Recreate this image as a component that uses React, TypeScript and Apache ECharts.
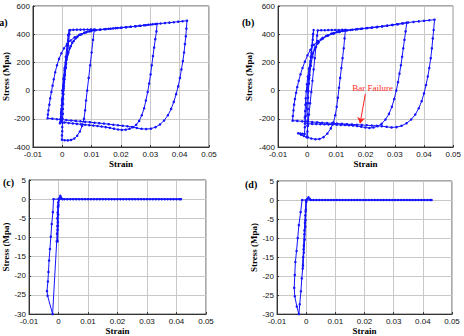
import React, { useEffect, useRef } from "react";
import * as echarts from "echarts";

type Pt = [number, number];

// ---------- (a) steel bar, cyclic response ----------
const aFirstCycle: Pt[] = [
  [0, 0], [0.0004, 80], [0.0008, 160], [0.0012, 240], [0.0016, 320], [0.002, 395], [0.0024, 428],
  [0.0021, 350], [0.0017, 270], [0.0013, 190], [0.0009, 110], [0.0005, 30], [0.0001, -50], [-0.0003, -130], [-0.0006, -200], [-0.0008, -232],
  [-0.0004, -160], [0, -80], [0.0004, 0], [0.0008, 80], [0.0012, 160], [0.0016, 240], [0.002, 320], [0.0024, 400], [0.0027, 430],
  [0.0038, 431], [0.005, 432], [0.0062, 432], [0.0074, 433], [0.0086, 433], [0.0098, 434], [0.0109, 434],
];
const aSecondCycle: Pt[] = [
  [0.0105, 360], [0.01, 270], [0.0095, 180], [0.009, 90], [0.0085, 0], [0.0081, -70], [0.0078, -140], [0.0074, -200], [0.0068, -250],
  [0.006, -290], [0.0051, -320], [0.0041, -340], [0.003, -350], [0.0019, -353], [0.0008, -352], [-0.0001, -348],
  [-0.0001, -318], [0, -288], [0, -258], [0.0001, -228], [0.0001, -198], [0.0002, -165], [0.0002, -130], [0.0003, -95], [0.0003, -60],
  [0.0004, -25], [0.0005, 15], [0.0006, 60], [0.0008, 110], [0.0011, 165], [0.0015, 220], [0.0021, 270], [0.0029, 315], [0.0039, 352],
  [0.0051, 380], [0.0066, 400], [0.0082, 414], [0.0098, 423], [0.0113, 429],
  [0.0128, 432], [0.0143, 435], [0.0158, 438], [0.0173, 441], [0.0188, 444], [0.0203, 447], [0.0218, 450], [0.0233, 453],
  [0.0248, 456], [0.0263, 460], [0.0278, 463], [0.0293, 467], [0.0308, 470], [0.0323, 474],
];
const aThirdCycle: Pt[] = [
  [0.0321, 420], [0.0317, 365], [0.0313, 305], [0.0309, 245], [0.0305, 180], [0.0301, 115], [0.0296, 50], [0.0291, -10],
  [0.0285, -70], [0.0279, -125], [0.0271, -175], [0.0262, -215], [0.0252, -242], [0.0241, -260], [0.0229, -271], [0.0216, -277],
  [0.0203, -279], [0.019, -276], [0.0176, -270], [0.0162, -264], [0.0148, -259], [0.0134, -255], [0.012, -251], [0.0106, -248],
  [0.0092, -245], [0.0078, -242], [0.0064, -239], [0.005, -236], [0.0036, -233], [0.0022, -230], [0.0008, -226], [-0.0005, -222],
  [-0.0004, -185], [-0.0003, -145], [-0.0002, -105], [-0.0001, -65], [0.0001, -20], [0.0003, 35], [0.0005, 90], [0.0008, 145],
  [0.0012, 200], [0.0018, 255], [0.0025, 300], [0.0034, 340], [0.0046, 372], [0.0061, 396], [0.0078, 412], [0.0096, 422], [0.0114, 429],
  [0.0131, 433], [0.0148, 436], [0.0165, 439], [0.0182, 443], [0.0199, 446], [0.0216, 449], [0.0233, 453], [0.025, 456],
  [0.0267, 460], [0.0284, 464], [0.0301, 468], [0.0318, 472], [0.0335, 476], [0.035, 479], [0.0365, 482], [0.038, 485],
  [0.0395, 489], [0.041, 492], [0.0425, 496],
];
const aFourthCycle: Pt[] = [
  [0.0423, 440], [0.0421, 385], [0.0418, 330], [0.0415, 270], [0.0411, 210], [0.0406, 150], [0.0401, 90], [0.0395, 30],
  [0.0388, -25], [0.038, -80], [0.0371, -130], [0.036, -175], [0.0347, -212], [0.0333, -240], [0.0318, -259], [0.0302, -270],
  [0.0286, -273], [0.027, -271], [0.0254, -265], [0.0238, -258], [0.0222, -253], [0.0206, -249], [0.019, -246], [0.0174, -242],
  [0.0158, -238], [0.0142, -234], [0.0126, -231], [0.011, -228], [0.0094, -224], [0.0078, -221], [0.0062, -218], [0.0046, -215],
  [0.003, -212], [0.0014, -209], [-0.0002, -206], [-0.0018, -203], [-0.0034, -199], [-0.005, -196],
  [-0.0049, -170], [-0.0047, -140], [-0.0044, -100], [-0.0041, -55], [-0.0037, -10], [-0.0033, 35], [-0.0029, 80], [-0.0024, 130],
  [-0.0018, 180], [-0.0011, 225], [-0.0003, 265], [0.0006, 300], [0.0016, 330], [0.0028, 355], [0.0042, 378], [0.0058, 396],
  [0.0075, 410], [0.0092, 420], [0.011, 428],
];

// ---------- (b) steel bar with failure ----------
const bFirstCycle: Pt[] = [
  [0, 0], [0.0004, 80], [0.0008, 160], [0.0012, 240], [0.0016, 320], [0.002, 400], [0.0022, 430],
  [0.0019, 360], [0.0015, 270], [0.0011, 180], [0.0007, 90], [0.0003, 0], [-0.0001, -90], [-0.0005, -180], [-0.0008, -260], [-0.0009, -307],
  [-0.0017, -306], [-0.0024, -304], [-0.0031, -303],
  [-0.0021, -313], [-0.0011, -322], [-0.0002, -331],
  [0.0002, -250], [0.0006, -170], [0.001, -90], [0.0014, -10], [0.0018, 70], [0.0022, 150], [0.0026, 230], [0.003, 310], [0.0034, 390], [0.0036, 427],
  [0.0048, 428], [0.006, 428], [0.0072, 429], [0.0084, 429], [0.0096, 430], [0.0108, 430], [0.012, 431], [0.0131, 431],
];
const bSecondCycle: Pt[] = [
  [0.0128, 370], [0.0125, 300], [0.0121, 230], [0.0117, 160], [0.0113, 90], [0.0109, 20], [0.0105, -50], [0.0101, -115],
  [0.0096, -175], [0.009, -225], [0.0081, -268], [0.0069, -305], [0.0056, -330], [0.0042, -343], [0.0028, -345], [0.0014, -340], [0.0002, -332],
  [0.0001, -290], [0.0001, -250], [0.0002, -210], [0.0002, -170], [0.0002, -130], [0.0003, -90], [0.0003, -50], [0.0004, -5],
  [0.0006, 50], [0.0008, 110], [0.0012, 175], [0.0018, 240], [0.0026, 295], [0.0036, 335], [0.0049, 365], [0.0065, 388],
  [0.0083, 405], [0.0102, 416], [0.0121, 423],
  [0.0138, 428], [0.0155, 432], [0.0172, 436], [0.0189, 440], [0.0206, 444], [0.0223, 448], [0.024, 452], [0.0257, 456],
  [0.0274, 461], [0.0291, 466], [0.0308, 471], [0.0325, 477], [0.0341, 482],
];
const bThirdCycle: Pt[] = [
  [0.0337, 420], [0.0333, 360], [0.0329, 300], [0.0325, 240], [0.0321, 180], [0.0316, 120], [0.0311, 60], [0.0305, 0],
  [0.0298, -60], [0.029, -115], [0.028, -165], [0.0268, -205], [0.0255, -235], [0.0241, -253], [0.0227, -262], [0.0213, -265],
  [0.0199, -262], [0.0185, -256], [0.0171, -251], [0.0157, -248], [0.0143, -246], [0.0129, -244], [0.0115, -243], [0.0101, -242],
  [0.0087, -241], [0.0073, -240], [0.0059, -239], [0.0045, -238], [0.0031, -237], [0.0017, -236], [0.0003, -235], [-0.0008, -234],
  [-0.0008, -190], [-0.0007, -145], [-0.0006, -100], [-0.0005, -55], [-0.0003, -5], [-0.0001, 45], [0.0002, 100], [0.0006, 155],
  [0.0011, 210], [0.0018, 262], [0.0027, 305], [0.0039, 342], [0.0054, 370], [0.0071, 390], [0.009, 404], [0.011, 415], [0.013, 425],
  [0.0148, 430], [0.0166, 434], [0.0184, 438], [0.0202, 442], [0.022, 446], [0.0238, 450], [0.0256, 455], [0.0274, 460],
  [0.0292, 465], [0.031, 470], [0.0328, 476], [0.0346, 483], [0.0364, 487], [0.0382, 491], [0.04, 495], [0.0418, 499], [0.0436, 503],
];
const bFourthCycle: Pt[] = [
  [0.0433, 430], [0.043, 370], [0.0427, 300], [0.0423, 230], [0.0418, 160], [0.0413, 100], [0.0407, 40], [0.04, -20],
  [0.0392, -75], [0.0382, -125], [0.037, -170], [0.0356, -205], [0.034, -232], [0.0323, -250], [0.0306, -259], [0.0289, -261],
  [0.0272, -257], [0.0255, -252], [0.0238, -250], [0.0221, -248], [0.0204, -246], [0.0187, -244], [0.017, -242], [0.0153, -240],
  [0.0136, -238], [0.0119, -236], [0.0102, -234], [0.0085, -232], [0.0068, -230], [0.0051, -228], [0.0034, -225], [0.0017, -223],
  [0, -220], [-0.0017, -218], [-0.0034, -215], [-0.005, -213],
  [-0.0049, -180], [-0.0047, -140], [-0.0045, -100], [-0.0042, -60], [-0.0038, -15], [-0.0034, 25], [-0.0029, 70], [-0.0023, 115],
  [-0.0016, 160], [-0.0008, 205], [0.0001, 250], [0.0011, 290], [0.0023, 325], [0.0037, 352], [0.0053, 374], [0.0071, 392],
  [0.0091, 408], [0.0112, 419], [0.0133, 427],
];
const barFailureLabelAt: Pt = [0.0224, 19];
const barFailureArrowFrom: Pt = [0.0199, -25];
const barFailureArrowTo: Pt = [0.0181, -233];

// ---------- (c) concrete, cyclic response ----------
const cEarly: Pt[] = [
  [0, 0], [-0.0001, -2], [-0.0002, -4], [-0.0002, -6], [-0.0003, -8], [-0.0003, -11], [-0.0002, -7], [-0.0001, -4], [0, -1.5],
  [0.0003, 0.3], [0.0006, 0.9], [0.0009, 0.4], [0.0013, 0],
];
const cTension: Pt[] = [
  [0.002, 0], [0.003, 0], [0.004, 0], [0.005, 0], [0.006, 0], [0.007, 0], [0.008, 0], [0.009, 0], [0.01, 0], [0.011, 0],
  [0.012, 0], [0.013, 0], [0.014, 0], [0.015, 0], [0.016, 0], [0.017, 0], [0.018, 0], [0.019, 0], [0.02, 0], [0.021, 0],
  [0.022, 0], [0.023, 0], [0.024, 0], [0.025, 0], [0.026, 0], [0.027, 0], [0.028, 0], [0.029, 0], [0.03, 0], [0.031, 0],
  [0.032, 0], [0.033, 0], [0.034, 0], [0.035, 0], [0.036, 0], [0.037, 0], [0.038, 0], [0.039, 0], [0.04, 0], [0.041, 0], [0.0415, 0],
];
const cCompression: Pt[] = [
  [-0.0017, 0], [-0.0019, -3.4], [-0.0023, -6.5], [-0.0026, -9.8], [-0.0029, -13], [-0.0032, -16], [-0.0034, -19],
  [-0.0036, -21.5], [-0.0039, -24], [-0.0037, -25.2], [-0.002, -30], [-0.0006, -11], [-0.0005, -9], [-0.0004, -7],
  [-0.0004, -5], [-0.0003, -3.5], [-0.0002, -2], [-0.0001, -0.8], [0.0003, 0],
];

// ---------- (d) concrete with failure ----------
const dEarly: Pt[] = [
  [0, 0], [-0.0002, -3], [-0.0004, -6], [-0.0006, -9], [-0.0008, -12], [-0.001, -15], [-0.0012, -18], [-0.0009, -13],
  [-0.0006, -8], [-0.0003, -4], [0, -0.5], [0.0004, 0.3], [0.0008, 0.7], [0.0012, 0.3], [0.0016, 0],
];
const dTension: Pt[] = [
  [0.0025, 0], [0.0035, 0], [0.0045, 0], [0.0055, 0], [0.0065, 0], [0.0075, 0], [0.0085, 0], [0.0095, 0], [0.0105, 0],
  [0.0115, 0], [0.0125, 0], [0.0135, 0], [0.0145, 0], [0.0155, 0], [0.0165, 0], [0.0175, 0], [0.0185, 0], [0.0195, 0],
  [0.0205, 0], [0.0215, 0], [0.0225, 0], [0.0235, 0], [0.0245, 0], [0.0255, 0], [0.0265, 0], [0.0275, 0], [0.0285, 0],
  [0.0295, 0], [0.0305, 0], [0.0315, 0], [0.0325, 0], [0.0335, 0], [0.0345, 0], [0.0355, 0], [0.0365, 0], [0.0375, 0],
  [0.0385, 0], [0.0395, 0], [0.0405, 0], [0.0415, 0], [0.0425, 0], [0.043, 0],
];
const dCompression: Pt[] = [
  [-0.0014, 0], [-0.0019, -3.2], [-0.0025, -6.6], [-0.0029, -10], [-0.0033, -13.4], [-0.0037, -16.3], [-0.0039, -19.7],
  [-0.0041, -23.1], [-0.0039, -25.3], [-0.0032, -28], [-0.0025, -30], [-0.0022, -27.4], [-0.0018, -24], [-0.0015, -20.6],
  [-0.0011, -17.2], [-0.0008, -13.8], [-0.0005, -10.4], [-0.0003, -7], [-0.0002, -5.3], [-0.0001, -2.5], [0, -0.3],
];

const panelA = [...aFirstCycle, ...aSecondCycle, ...aThirdCycle, ...aFourthCycle];
const panelB = [...bFirstCycle, ...bSecondCycle, ...bThirdCycle, ...bFourthCycle];
const panelC = [...cEarly, ...cTension, ...cCompression];
const panelD = [...dEarly, ...dTension, ...dCompression];

const strainRange = { min: -0.01, max: 0.05, interval: 0.01 };
const steelStressRange = { min: -400, max: 600, interval: 200 };
const concreteStressRange = { min: -30, max: 5, interval: 5 };
const panelTags = ["(a)", "(b)", "(c)", "(d)"];

const BLUE = "#1414ff";
const SERIF = '"Liberation Serif", "Times New Roman", serif';
const SANS = '"Liberation Sans", Arial, sans-serif';

const grids = [
  { left: 29, top: 6, width: 180, height: 141 },
  { left: 278, top: 6, width: 180, height: 141 },
  { left: 29, top: 180, width: 177, height: 140 },
  { left: 277, top: 181, width: 175, height: 138 },
];
const xNameGaps = [12.5, 12.5, 11, 11];
const yNameGaps = [12.5, 25, 12.5, 14.5];
const tagPos = [
  [-4, 22],
  [242, 22],
  [3, 182],
  [245, 184],
];

const fmtStrain = (v: number) => String(Number(v.toFixed(2)));

function makeX(i: number) {
  return {
    type: "value",
    gridIndex: i,
    ...strainRange,
    name: "Strain",
    nameLocation: "middle",
    nameGap: xNameGaps[i],
    nameTextStyle: { fontFamily: SERIF, fontWeight: "bold", fontSize: 9, color: "#000" },
    axisLine: { show: true, onZero: false, lineStyle: { color: "#333", width: 1 } },
    axisTick: { show: true, inside: true, length: 2, lineStyle: { color: "#333" } },
    splitLine: { show: true, lineStyle: { color: "#c8c8c8", width: 1 } },
    axisLabel: {
      fontFamily: SANS,
      fontSize: 8,
      color: "#111",
      margin: 3,
      showMinLabel: true,
      showMaxLabel: true,
      formatter: fmtStrain,
    },
  };
}

function makeY(i: number, range: { min: number; max: number; interval: number }) {
  return {
    type: "value",
    gridIndex: i,
    ...range,
    name: "Stress (Mpa)",
    nameLocation: "middle",
    nameGap: yNameGaps[i],
    nameTextStyle: { fontFamily: SERIF, fontWeight: "bold", fontSize: 9, color: "#000" },
    axisLine: { show: true, onZero: false, lineStyle: { color: "#333", width: 1 } },
    axisTick: { show: true, inside: true, length: 2, lineStyle: { color: "#333" } },
    splitLine: { show: true, lineStyle: { color: "#c8c8c8", width: 1 } },
    axisLabel: {
      fontFamily: SANS,
      fontSize: 8,
      color: "#111",
      margin: 3,
      showMinLabel: true,
      showMaxLabel: true,
    },
  };
}

function makeSeries(i: number, data: Pt[], extra: Record<string, unknown> = {}) {
  return {
    type: "line",
    xAxisIndex: i,
    yAxisIndex: i,
    data,
    symbol: "circle",
    symbolSize: 2.5,
    showSymbol: true,
    clip: true,
    silent: true,
    lineStyle: { color: BLUE, width: 1 },
    itemStyle: { color: BLUE },
    ...extra,
  };
}

export default function App() {
  const ref = useRef<HTMLDivElement>(null);

  useEffect(() => {
    if (!ref.current) return;
    const chart = echarts.init(ref.current, undefined, { renderer: "svg" });
    chart.setOption({
      animation: false,
      backgroundColor: "#fff",
      grid: grids.map((g) => ({ ...g, show: true, borderColor: "#555", borderWidth: 1, backgroundColor: "transparent" })),
      xAxis: [makeX(0), makeX(1), makeX(2), makeX(3)],
      yAxis: [
        makeY(0, steelStressRange),
        makeY(1, steelStressRange),
        makeY(2, concreteStressRange),
        makeY(3, concreteStressRange),
      ],
      series: [
        makeSeries(0, panelA),
        makeSeries(1, panelB, {
          markLine: {
            silent: true,
            symbol: ["none", "arrow"],
            symbolSize: 6,
            lineStyle: { color: "#ff2020", width: 1, type: "solid" },
            label: { show: false },
            data: [[{ coord: barFailureArrowFrom }, { coord: barFailureArrowTo }]],
          },
          markPoint: {
            silent: true,
            symbol: "circle",
            symbolSize: 1,
            itemStyle: { color: "rgba(0,0,0,0)" },
            label: {
              show: true,
              position: "inside",
              formatter: "Bar Failure",
              color: "#ff2a2a",
              fontFamily: SERIF,
              fontSize: 9,
            },
            data: [{ coord: barFailureLabelAt }],
          },
        }),
        makeSeries(2, panelC),
        makeSeries(3, panelD),
      ],
      graphic: panelTags.map((t, i) => ({
        type: "text",
        x: tagPos[i][0],
        y: tagPos[i][1],
        silent: true,
        style: {
          text: t,
          font: `bold 10px ${SERIF}`,
          fill: "#000",
          verticalAlign: "middle",
        },
      })),
    });
    return () => chart.dispose();
  }, []);

  return (
    <div
      ref={ref}
      style={{ position: "absolute", left: 0, top: 0, width: 464, height: 336, background: "#fff" }}
    />
  );
}
